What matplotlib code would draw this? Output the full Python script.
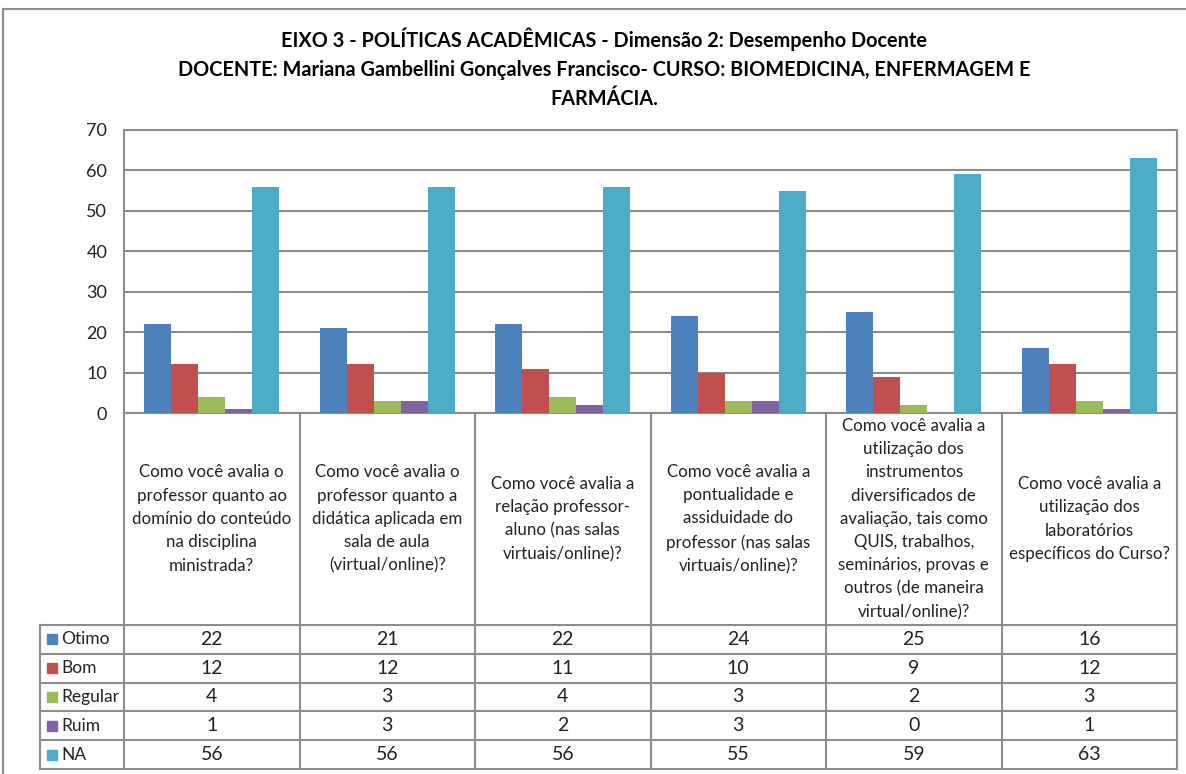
import numpy as np
import matplotlib.pyplot as plt
from matplotlib.patches import Rectangle
from matplotlib.lines import Line2D

plt.rcParams['font.family'] = ['Lato', 'DejaVu Sans']

# data
categories = [
    "Como você avalia o\nprofessor quanto ao\ndomínio do conteúdo\nna disciplina\nministrada?",
    "Como você avalia o\nprofessor quanto a\ndidática aplicada em\nsala de aula\n(virtual/online)?",
    "Como você avalia a\nrelação professor-\naluno (nas salas\nvirtuais/online)?",
    "Como você avalia a\npontualidade e\nassiduidade do\nprofessor (nas salas\nvirtuais/online)?",
    "Como você avalia a\nutilização dos\ninstrumentos\ndiversificados de\navaliação, tais como\nQUIS, trabalhos,\nseminários, provas e\noutros (de maneira\nvirtual/online)?",
    "Como você avalia a\nutilização dos\nlaboratórios\nespecíficos do Curso?",
]
series_names = ['Otimo', 'Bom', 'Regular', 'Ruim', 'NA']
otimo = [22, 21, 22, 24, 25, 16]
bom = [12, 12, 11, 10, 9, 12]
regular = [4, 3, 4, 3, 2, 3]
ruim = [1, 3, 2, 3, 0, 1]
na = [56, 56, 56, 55, 59, 63]
series = [otimo, bom, regular, ruim, na]
colors = ['#4F81BD', '#C0504D', '#9BBB59', '#8064A2', '#4BACC6']

title = ("EIXO 3 - POLÍTICAS ACADÊMICAS - Dimensão 2: Desempenho Docente\n"
         "DOCENTE: Mariana Gambellini Gonçalves Francisco- CURSO: BIOMEDICINA, ENFERMAGEM E\n"
         "FARMÁCIA.")

W, H = 1186, 774
grey = '#8c8c8c'
txt = '#222222'

def fx(px):
    return px / W

def fy(py):
    return 1 - py / H

fig = plt.figure(figsize=(W / 100, H / 100), dpi=100)

# outer chart frame (left/top visible)
fig.add_artist(Line2D([fx(3), fx(3)], [fy(9), 0], color=grey, lw=1.5))
fig.add_artist(Line2D([fx(3), 1], [fy(9), fy(9)], color=grey, lw=1.5))

fig.text(fx(604), fy(68), title, ha='center', va='center', fontsize=14.3,
         fontweight='bold', linespacing=1.55)

# bars
ax = fig.add_axes([fx(124), fy(413), fx(1177) - fx(124), (413 - 130) / H])
x = np.arange(len(categories))
w = 1 / 6.5
for i, vals in enumerate(series):
    ax.bar(x + (i - 2) * w, vals, w, color=colors[i], zorder=3)
ax.set_xlim(-0.5, 5.5)
ax.set_ylim(0, 70)
ax.set_yticks(range(0, 71, 10))
ax.set_xticks([])
ax.yaxis.grid(True, color=grey, lw=1.5, zorder=0)
ax.tick_params(axis='y', length=0, pad=12, labelsize=13, labelcolor=txt)
for s in ax.spines.values():
    s.set_color(grey)
    s.set_linewidth(1.5)

# data table below
tab = fig.add_axes([fx(124), fy(769), fx(1177) - fx(124), (769 - 413) / H])
tab.set_xlim(-0.5, 5.5)
tab.set_ylim(356, 0)
tab.axis('off')

head_h = 212
row_h = (356 - head_h) / len(series_names)
x_leg = -0.5 - 84 / 175.5

for k in range(7):
    xk = -0.5 + k
    tab.add_line(Line2D([xk, xk], [0, 356], color=grey, lw=1.5, clip_on=False))
tab.add_line(Line2D([x_leg, x_leg], [head_h, 356], color=grey, lw=1.5, clip_on=False))
for r in range(len(series_names) + 1):
    yr = head_h + r * row_h
    tab.add_line(Line2D([x_leg, 5.5], [yr, yr], color=grey, lw=1.5, clip_on=False))

for j, cat in enumerate(categories):
    tab.text(j, head_h / 2, cat, ha='center', va='center', fontsize=12.2,
             color=txt, linespacing=1.56)

for i, name in enumerate(series_names):
    yc = head_h + (i + 0.5) * row_h
    tab.add_patch(Rectangle((-0.5 - 77 / 175.5, yc - 5), 10 / 175.5, 10,
                            color=colors[i], clip_on=False))
    tab.text(-0.5 - 63 / 175.5, yc, name, ha='left', va='center', fontsize=12.5,
             color=txt, clip_on=False)
    for j, v in enumerate(series[i]):
        tab.text(j, yc, str(v), ha='center', va='center', fontsize=14,
                 color=txt)

fig.savefig('out.png', dpi=100)
